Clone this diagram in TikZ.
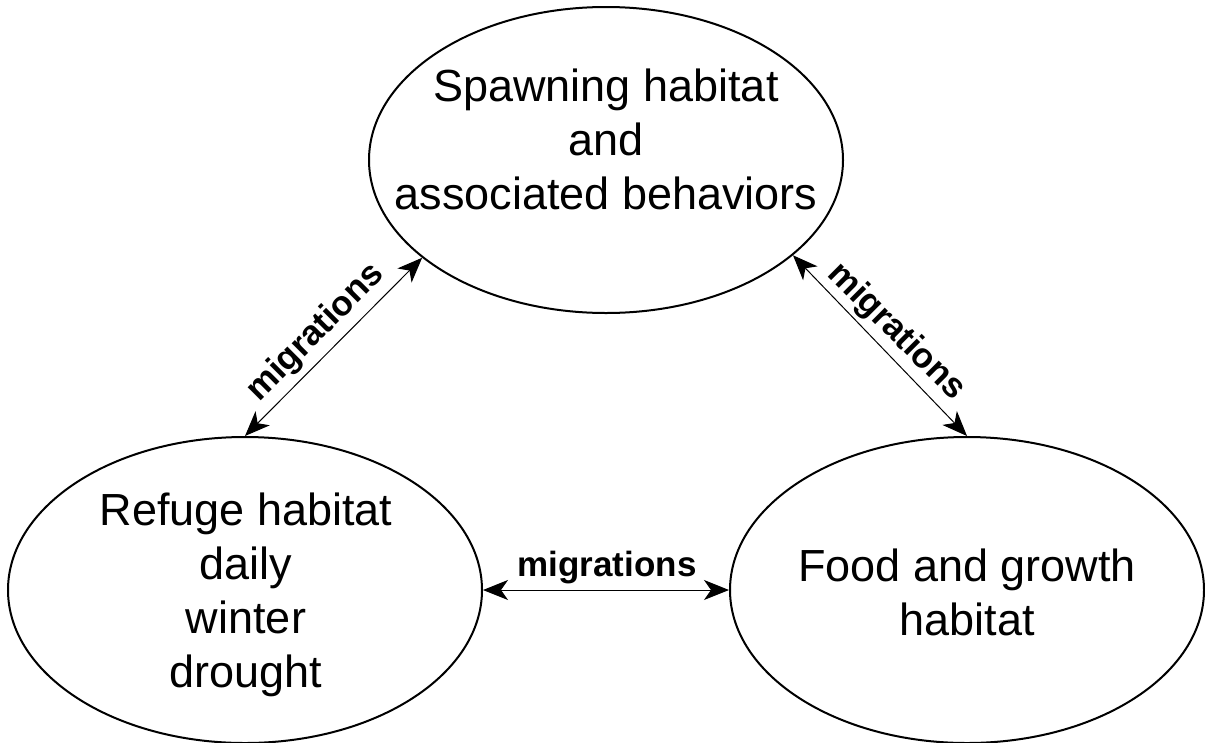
\documentclass[tikz,border=0pt]{standalone}
\usepackage{fontspec}
\setmainfont{Liberation Sans}
\usetikzlibrary{shapes.geometric,arrows.meta}
\begin{document}
\begin{tikzpicture}[x=1pt,y=-1pt,
  oval/.style={ellipse,draw=black,line width=2pt,minimum width=474pt,minimum height=306pt,inner sep=0pt},
  bigtxt/.style={align=center,inner sep=0pt,font=\fontsize{45}{54}\selectfont},
  lbl/.style={inner sep=0pt,font=\fontsize{35}{40}\selectfont\bfseries},
  arr/.style={line width=1pt,{Stealth[length=25pt,width=20pt,inset=7pt]}-{Stealth[length=25pt,width=20pt,inset=7pt]}}]
\useasboundingbox (0,0) rectangle (1205,742);
\node[oval] (T) at (606,160) {};
\node[oval] (L) at (245,590) {};
\node[oval] (R) at (967,590) {};
\node[bigtxt] (Tt) at (606,139) {Spawning habitat\\and\\associated behaviors};
\node[bigtxt] (Lt) at (246,595) {Refuge habitat\\daily\\winter\\drought};
\node[bigtxt] (Rt) at (967,592) {Food and growth\\habitat};
\draw[arr] (L.north) -- (T.208);
\draw[arr] (T.333) -- (R.north);
\draw[arr] (L.east) -- (R.west);
\node[lbl,rotate=45] (m1) at (316,333) {migrations};
\node[lbl,rotate=-45] (m2) at (896,332) {migrations};
\node[lbl] (m3) at (607,568) {migrations};
\end{tikzpicture}
\end{document}
